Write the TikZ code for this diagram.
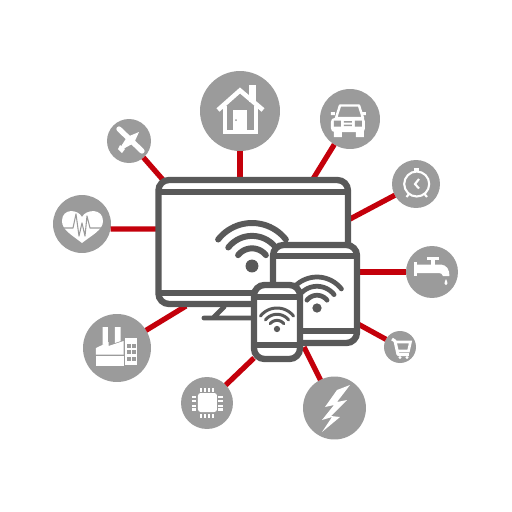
\documentclass[tikz,border=0pt]{standalone}
\usepackage{xcolor}
\usepackage{tikz}
\definecolor{colo}{HTML}{595959}
\definecolor{hubgray}{HTML}{9B9B9B}
\definecolor{linkred}{HTML}{C4000B}
\tikzstyle{hub}=[circle,fill=hubgray,inner sep=0pt,outer sep=0pt]
\tikzstyle{screen}=[rectangle,draw=colo,fill=white,line width=3.6pt,rounded corners=6pt,inner sep=0pt,outer sep=0pt]
\tikzstyle{link}=[draw=linkred,line width=3pt]
\tikzstyle{bar}=[draw=colo,line width=3.2pt,line cap=butt]
\tikzstyle{glyph}=[draw=white,line width=1.2pt]
\newcommand{\hubnode}[4]{
  \node[hub,minimum size=#4*0.04cm] (#1) at (#2,#3) {};
}
\newcommand{\screennode}[5]{
  \node[screen,minimum width=#4*0.02cm,minimum height=#5*0.02cm] (#1) at (#2,#3) {};
}
% dot plus three arcs: centre x, centre y, outer radius, line width
\newcommand{\wifi}[4]{
  \fill[colo] (#1,#2) circle ({#3*0.15});
  \foreach \f in {1,0.7,0.41}
    \draw[colo,line width=#4,line cap=round] plot[domain=38:142,samples=24]
      ({#1+#3*\f*cos(\x)},{#2-#3*\f*sin(\x)});
}
\begin{document}
\begin{tikzpicture}[x=0.02cm,y=-0.02cm]
\useasboundingbox (0,0) rectangle (512,512);
\fill[white] (0,0) rectangle (512,512);
% hubs
\hubnode{house}{240}{111}{40}
\hubnode{car}{350}{119}{30}
\hubnode{clock}{416}{184}{24}
\hubnode{tap}{432}{272}{26}
\hubnode{cart}{400}{347}{16}
\hubnode{bolt}{334.5}{408}{31.5}
\hubnode{chip}{207}{403}{26}
\hubnode{factory}{117}{348}{34}
\hubnode{heart}{82}{224}{29}
\hubnode{plane}{129}{141}{22}
% connector ends on the devices
\coordinate (houseEnd) at (240,180);
\coordinate (carEnd) at (313,179);
\coordinate (clockEnd) at (350,219);
\coordinate (tapEnd) at (358,272);
\coordinate (cartEnd) at (358,324);
\coordinate (boltEnd) at (304,347);
\coordinate (chipEnd) at (254,358);
\coordinate (factoryEnd) at (186,306);
\coordinate (heartEnd) at (157,229);
\coordinate (planeEnd) at (164,181);
\draw[link] (house) -- (houseEnd);
\draw[link] (car) -- (carEnd);
\draw[link] (clock) -- (clockEnd);
\draw[link] (tap) -- (tapEnd);
\draw[link] (cart) -- (cartEnd);
\draw[link] (bolt) -- (boltEnd);
\draw[link] (chip) -- (chipEnd);
\draw[link] (factory) -- (factoryEnd);
\draw[link] (heart.-10) -- (heartEnd);
\draw[link] (plane) -- (planeEnd);
% monitor
\draw[colo,line width=2.8pt,line cap=round,line join=round] (224,307) -- (213,318) (204,318) -- (256,318);
\screennode{monitor}{253.2}{242}{189.5}{124}
\draw[bar] (monitor.west |- 0,192) -- (monitor.east |- 0,192);
\draw[bar] (monitor.west |- 0,293) -- (monitor.east |- 0,293);
\wifi{252}{266}{43}{3.4pt}
% tablet
\screennode{tablet}{315}{294}{84}{98}
\draw[bar] (tablet.west |- 0,256) -- (tablet.east |- 0,256);
\draw[bar] (tablet.west |- 0,331) -- (tablet.east |- 0,331);
\wifi{317}{308}{31}{2.7pt}
% phone
\screennode{phone}{277}{322}{46}{74}
\draw[bar] (phone.west |- 0,297) -- (phone.east |- 0,297);
\draw[bar] (phone.west |- 0,345) -- (phone.east |- 0,345);
\wifi{277}{329}{21}{1.7pt}
% house
\fill[white] (249.5,85) rectangle (256,102);
\draw[white,line width=2.6pt,miter limit=4] (218,110) -- (240,90.5) -- (263,110);
\draw[glyph,line width=1.9pt] (225,106) -- (225,132) -- (256,132) -- (256,106);
\fill[white] (233,110) rectangle (247,131);
\fill[hubgray] (236,120) circle (1);
% car
\draw[white,line width=1.4pt,line join=round] (340,105.5) -- (359,105.5) -- (363,118) -- (336,118) -- cycle;
\fill[white,rounded corners=2pt] (331,118) rectangle (365,132);
\fill[white] (334,130) rectangle (342,137) (356,130) rectangle (364,137);
\fill[white] (331,112) rectangle (335,115) (362,112) rectangle (366,115);
\fill[hubgray] (334,120.5) rectangle (341,126.5) (355,120.5) rectangle (362,126.5) (344,121) rectangle (352,122.5) (344,124.5) rectangle (352,126);
% clock
\draw[glyph] (416.7,184) circle (12.5);
\draw[glyph] (419,179) -- (415,184) -- (419,188.5);
\fill[white] (414.5,168) rectangle (419,171);
\draw[glyph] (409,194) -- (406.5,197) (424.5,194) -- (427,197);
% tap
\fill[white] (414,262) rectangle (417,276);
\fill[white] (427,257) rectangle (439,260);
\fill[white] (431,260) rectangle (435,266);
\fill[white] (417,264.5) -- (441,264.5) .. controls (447,265) and (449.5,270) .. (449.5,276) -- (443,276) .. controls (443,274) and (441,273) .. (437,273) -- (417,273) -- cycle;
\fill[white] (446,279) .. controls (444,283) and (444,285) .. (446,285) .. controls (448,285) and (448,283) .. (446,279) -- cycle;
% cart
\draw[glyph,line width=1.7pt,line join=round] (392,339) -- (395,341) -- (398,354.5) -- (409,354.5);
\draw[glyph,line width=1.5pt] (396,342) -- (410.5,342) -- (408.5,351) -- (398,351);
\fill[white] (400,357.5) circle (1.7) (407,357.5) circle (1.7);
% bolt
\fill[white] (350,385) -- (337,390) -- (325,407) -- (334,405) -- (322,420) -- (332,417) -- (322,432) -- (340,417) -- (331,416) -- (347,400) -- (337,402) -- cycle;
% chip
\fill[white,rounded corners=1.5pt] (198,393) rectangle (217,412);
\foreach \p in {200.7,205,209.3,213.3}
  \draw[glyph] (\p,388) -- (\p,391.5) (\p,414) -- (\p,417.5);
\foreach \p in {397,401.3,405.6,409.5}
  \draw[glyph] (192,\p) -- (196.5,\p) (218.5,\p) -- (223,\p);
% factory
\fill[white] (102.7,327) -- (108,327) -- (108,343) -- (102.7,345) -- cycle;
\fill[white] (115,327) -- (120.7,327) -- (120.7,341) -- (115,343) -- cycle;
\fill[white] (96,348) -- (108.7,342) -- (108.7,346) -- (123.7,341) -- (123.7,354.5) -- (96,354.5) -- cycle;
\fill[white] (96,356) rectangle (124,366);
\fill[white] (125,338) rectangle (137,365);
\foreach \r in {343.5,350,357}
  \foreach \c in {127.5,132.5}
    \fill[hubgray] (\c,\r) rectangle (\c+3.5,\r+4);
% heart
\fill[white] (82,217) .. controls (78,209) and (62,208) .. (62,221) .. controls (62,230) and (72,235) .. (82,243) .. controls (92,235) and (103,230) .. (103,221) .. controls (103,208) and (86,209) .. (82,217) -- cycle;
\draw[hubgray,line width=0.6pt,line join=round] (60,228) -- (73,228) -- (76,214) -- (79,236) -- (82,223) -- (85,236) -- (87,216) -- (90,228) -- (105,228);
% plane
\draw[white,line width=3pt,line cap=round] (119,129) -- (142,151);
\fill[white] (139,132) -- (127,137) -- (120,148) -- (123,149) -- (134,143) -- cycle;
\fill[white] (120,145) -- (118,149) -- (122,153) -- (125,149) -- cycle;
\end{tikzpicture}
\end{document}
